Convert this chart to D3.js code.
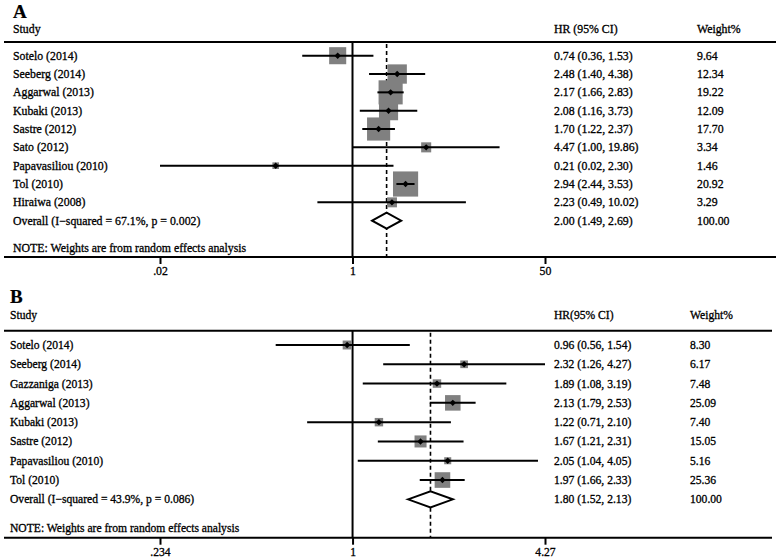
<!DOCTYPE html>
<html>
<head>
<meta charset="utf-8">
<script src="https://cdn.jsdelivr.net/npm/d3@7"></script>
<style>
  html, body { margin: 0; padding: 0; background: #fff; }
  svg { display: block; }
  text { font-family: "Liberation Serif", "Times New Roman", serif; fill: #000; stroke: #000; stroke-width: 0.3px; }
</style>
</head>
<body>
<script>
// ---------- Panel A data ----------
const studiesA = ["Sotelo (2014)", "Seeberg (2014)", "Aggarwal (2013)", "Kubaki (2013)", "Sastre (2012)", "Sato (2012)", "Papavasiliou (2010)", "Tol (2010)", "Hiraiwa (2008)"];
const hrA      = [0.74, 2.48, 2.17, 2.08, 1.70, 4.47, 0.21, 2.94, 2.23];
const lowA     = [0.36, 1.40, 1.66, 1.16, 1.22, 1.00, 0.02, 2.44, 0.49];
const highA    = [1.53, 4.38, 2.83, 3.73, 2.37, 19.86, 2.30, 3.53, 10.02];
const weightA  = [9.64, 12.34, 19.22, 12.09, 17.70, 3.34, 1.46, 20.92, 3.29];
const overallA = { label: "Overall  (I\u2212squared = 67.1%, p = 0.002)", hr: 2.00, low: 1.49, high: 2.69, weight: 100.00 };
const ticksA      = [0.02, 1, 50];
const tickLabelsA = [".02", "1", "50"];

// ---------- Panel B data ----------
const studiesB = ["Sotelo (2014)", "Seeberg (2014)", "Gazzaniga (2013)", "Aggarwal (2013)", "Kubaki (2013)", "Sastre (2012)", "Papavasiliou (2010)", "Tol (2010)"];
const hrB      = [0.96, 2.32, 1.89, 2.13, 1.22, 1.67, 2.05, 1.97];
const lowB     = [0.56, 1.26, 1.08, 1.79, 0.71, 1.21, 1.04, 1.66];
const highB    = [1.54, 4.27, 3.19, 2.53, 2.10, 2.31, 4.05, 2.33];
const weightB  = [8.30, 6.17, 7.48, 25.09, 7.40, 15.05, 5.16, 25.36];
const overallB = { label: "Overall  (I\u2212squared = 43.9%, p = 0.086)", hr: 1.80, low: 1.52, high: 2.13, weight: 100.00 };
const ticksB      = [0.234, 1, 4.27];
const tickLabelsB = [".234", "1", "4.27"];

const noteText = "NOTE: Weights are from random effects analysis";

const W = 778, H = 560;
const svg = d3.select("body").append("svg").attr("width", W).attr("height", H);

function panel(cfg) {
  const g = svg.append("g");
  const n = cfg.studies.length;
  const x = d3.scaleLog().domain([cfg.ticks[0], cfg.ticks[2]]).range([160, 545]);
  const y = d3.scaleLinear().domain([0, n]).range([cfg.row0, cfg.row0 + n * cfg.step]);
  const boxSize = d3.scaleSqrt().domain([0, 1]).range([0, cfg.boxK]);

  // Panel letter
  g.append("text").attr("x", cfg.textX).attr("y", cfg.letterY)
    .attr("font-size", 19).attr("font-weight", "bold").style("stroke-width", "0.2px").text(cfg.letter);

  // Headers
  g.append("text").attr("x", cfg.textX).attr("y", cfg.headY).attr("font-size", cfg.fs).text("Study");
  g.append("text").attr("x", cfg.hrX).attr("y", cfg.headY).attr("font-size", cfg.fs).text(cfg.hrHead);
  g.append("text").attr("x", cfg.wX).attr("y", cfg.headY).attr("font-size", cfg.fs).text("Weight%");

  // Top rule
  g.append("line").attr("x1", 4).attr("x2", cfg.ruleEnd).attr("y1", cfg.topY).attr("y2", cfg.topY)
    .attr("stroke", "#000").attr("stroke-width", 2);

  // Axis rule
  g.append("line").attr("x1", 4).attr("x2", cfg.ruleEnd).attr("y1", cfg.axisY).attr("y2", cfg.axisY)
    .attr("stroke", "#000").attr("stroke-width", 2);

  // Null line
  g.append("line").attr("x1", x(1)).attr("x2", x(1)).attr("y1", cfg.topY).attr("y2", cfg.axisY)
    .attr("stroke", "#000").attr("stroke-width", 2);

  // Overall dashed line
  g.append("line").attr("x1", x(cfg.overall.hr)).attr("x2", x(cfg.overall.hr))
    .attr("y1", cfg.topY + 2).attr("y2", cfg.axisY)
    .attr("stroke", "#000").attr("stroke-width", 1.6).attr("stroke-dasharray", "4,3");

  // Axis ticks
  const axis = d3.axisBottom(x).tickValues(cfg.ticks)
    .tickFormat((d, i) => cfg.tickLabels[i]).tickSize(7).tickSizeOuter(0).tickPadding(3);
  const ag = g.append("g").attr("transform", `translate(0,${cfg.axisY})`).call(axis);
  ag.select(".domain").remove();
  ag.selectAll(".tick line").attr("stroke", "#000").attr("stroke-width", 2);
  ag.selectAll(".tick text").attr("font-family", "Liberation Serif, serif").attr("font-size", cfg.fs).attr("fill", "#000");

  const idx = d3.range(n);

  // Boxes
  g.selectAll("rect.box").data(idx).join("rect").attr("class", "box")
    .attr("x", i => x(cfg.hr[i]) - boxSize(cfg.weight[i]) / 2)
    .attr("y", i => y(i) - boxSize(cfg.weight[i]) / 2)
    .attr("width", i => boxSize(cfg.weight[i]))
    .attr("height", i => boxSize(cfg.weight[i]))
    .attr("fill", "#808080");

  // CI lines
  g.selectAll("line.ci").data(idx).join("line").attr("class", "ci")
    .attr("x1", i => x(cfg.low[i])).attr("x2", i => x(cfg.high[i]))
    .attr("y1", i => y(i)).attr("y2", i => y(i))
    .attr("stroke", "#000").attr("stroke-width", 2);

  // Point markers (small diamonds)
  g.selectAll("path.pt").data(idx).join("path").attr("class", "pt")
    .attr("d", i => {
      const cx = x(cfg.hr[i]), cy = y(i), r = 3.2;
      return `M${cx - r},${cy}L${cx},${cy - r}L${cx + r},${cy}L${cx},${cy + r}Z`;
    })
    .attr("fill", "#000");

  // Overall diamond
  const oy = y(n), o = cfg.overall, dh = 8;
  g.append("path")
    .attr("d", `M${x(o.low)},${oy}L${x(o.hr)},${oy - dh}L${x(o.high)},${oy}L${x(o.hr)},${oy + dh}Z`)
    .attr("fill", "#fff").attr("stroke", "#000").attr("stroke-width", 2);

  // Study labels and columns
  const labels = cfg.studies.concat([o.label]);
  const hrs = cfg.hr.concat([o.hr]), lows = cfg.low.concat([o.low]), highs = cfg.high.concat([o.high]);
  const ws = cfg.weight.concat([o.weight]);
  const all = d3.range(n + 1);
  g.selectAll("text.lab").data(all).join("text").attr("class", "lab")
    .attr("x", cfg.textX).attr("y", i => y(i) + 4).attr("font-size", cfg.fs).text(i => labels[i]);
  g.selectAll("text.hr").data(all).join("text").attr("class", "hr")
    .attr("x", cfg.hrX).attr("y", i => y(i) + 4).attr("font-size", cfg.fs)
    .text(i => `${hrs[i].toFixed(2)} (${lows[i].toFixed(2)}, ${highs[i].toFixed(2)})`);
  g.selectAll("text.w").data(all).join("text").attr("class", "w")
    .attr("x", cfg.wX).attr("y", i => y(i) + 4).attr("font-size", cfg.fs).text(i => ws[i].toFixed(2));

  // Note
  g.append("text").attr("x", cfg.textX).attr("y", cfg.noteY).attr("font-size", cfg.fs).text(noteText);
}

panel({
  letter: "A", studies: studiesA, hr: hrA, low: lowA, high: highA, weight: weightA, overall: overallA,
  ticks: ticksA, tickLabels: tickLabelsA, hrHead: "HR (95% CI)",
  textX: 13, hrX: 554, wX: 697, letterY: 18, headY: 33, topY: 42, row0: 55.7, step: 18.33,
  axisY: 257, noteY: 252, ruleEnd: 776, fs: 11.8, boxK: 5.5
});

panel({
  letter: "B", studies: studiesB, hr: hrB, low: lowB, high: highB, weight: weightB, overall: overallB,
  ticks: ticksB, tickLabels: tickLabelsB, hrHead: "HR(95% CI)",
  textX: 10, hrX: 554, wX: 690, letterY: 303, headY: 319, topY: 330.7, row0: 345, step: 19.29,
  axisY: 537.7, noteY: 532, ruleEnd: 772, fs: 11.6, boxK: 3.1
});
</script>
</body>
</html>
